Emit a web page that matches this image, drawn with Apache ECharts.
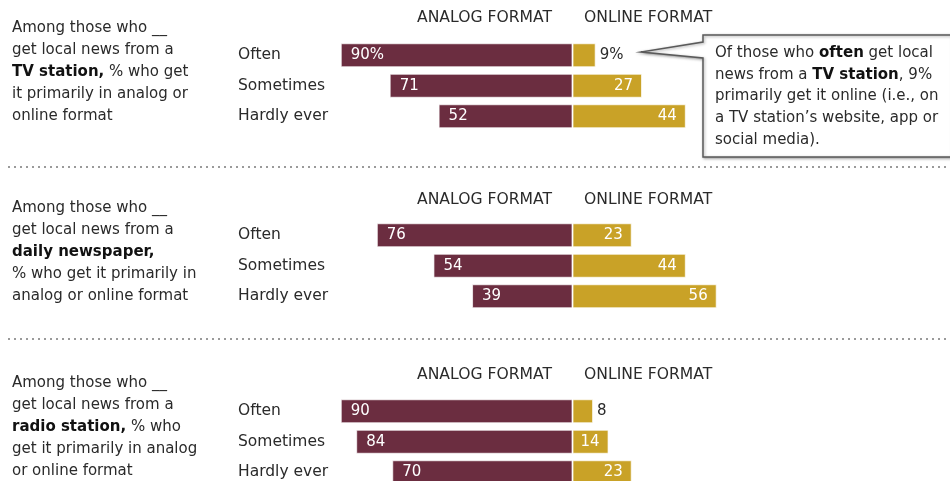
<!DOCTYPE html>
<html>
<head>
<meta charset="utf-8">
<script src="https://cdn.jsdelivr.net/npm/echarts@6/dist/echarts.min.js"></script>
<style>
  html, body { margin: 0; padding: 0; background: #fff; }
  #chart { width: 950px; height: 481px; }
</style>
</head>
<body>
<div id="chart"></div>
<script>
// Frequency of getting local news from each source
const categories = ['Often', 'Sometimes', 'Hardly ever'];
const formatHeaders = ['ANALOG FORMAT', 'ONLINE FORMAT'];

// Share getting it in analog vs. online format (%)
const tvAnalog = [90, 71, 52];
const tvOnline = [9, 27, 44];
const paperAnalog = [76, 54, 39];
const paperOnline = [23, 44, 56];
const radioAnalog = [90, 84, 70];
const radioOnline = [8, 14, 23];

const panelTexts = [
  'Among those who __\nget local news from a\n{b|TV station,} % who get\nit primarily in analog or\nonline format',
  'Among those who __\nget local news from a\n{b|daily newspaper,}\n% who get it primarily in\nanalog or online format',
  'Among those who __\nget local news from a\n{b|radio station,} % who\nget it primarily in analog\nor online format'
];
const noteText = 'Of those who {b|often} get local\nnews from a {b|TV station}, 9%\nprimarily get it online (i.e., on\na TV station\u2019s website, app or\nsocial media).';

const panels = [
  { analog: tvAnalog, online: tvOnline, pct: true },
  { analog: paperAnalog, online: paperOnline, pct: false },
  { analog: radioAnalog, online: radioOnline, pct: false }
];

const FONT = '"DejaVu Sans", Verdana, sans-serif';
const TXT = '#2a2a2a';
const ANALOG = '#6b2d40';
const ONLINE = '#c9a227';

// Layout of the three stacked panels
const gridTops = [40, 220, 396];
const headerY = [18, 200, 375];
const textTops = [17, 197, 372];
const rowH = 30.5;

const grids = [], xAxes = [], yAxes = [], series = [];
panels.forEach((p, i) => {
  grids.push({ left: 315, width: 515, top: gridTops[i], height: rowH * 3, outerBoundsMode: 'none' });
  xAxes.push({
    gridIndex: i, type: 'value', min: -100, max: 100,
    show: false, splitLine: { show: false }
  });
  yAxes.push({
    gridIndex: i, type: 'category', inverse: true, data: categories,
    axisLine: { show: false }, axisTick: { show: false },
    axisLabel: { align: 'left', margin: 77, fontSize: 15.5, fontFamily: FONT, color: TXT }
  });
  const suffix = (idx) => (p.pct && idx === 0 ? '%' : '');
  series.push({
    type: 'bar', xAxisIndex: i, yAxisIndex: i, barWidth: 24, barGap: '-100%',
    itemStyle: { color: ANALOG, borderColor: 'rgba(255,255,255,0.7)', borderWidth: 1 },
    data: p.analog.map(v => -v),
    label: {
      show: true, position: 'insideLeft', distance: 10, color: '#fff',
      fontSize: 15, fontFamily: FONT,
      formatter: (d) => Math.abs(d.value) + suffix(d.dataIndex)
    }
  });
  series.push({
    type: 'bar', xAxisIndex: i, yAxisIndex: i, barWidth: 24, barGap: '-100%',
    itemStyle: { color: ONLINE, borderColor: 'rgba(255,255,255,0.7)', borderWidth: 1 },
    data: p.online.map(v => v < 10
      ? { value: v, label: { position: 'right', distance: 4, color: TXT } }
      : v),
    label: {
      show: true, position: 'insideRight', distance: 9, color: '#fff',
      fontSize: 15, fontFamily: FONT,
      formatter: (d) => d.value + suffix(d.dataIndex)
    }
  });
});

const graphics = [];
panels.forEach((p, i) => {
  graphics.push({
    type: 'text', x: 552, y: headerY[i],
    style: { text: formatHeaders[0], font: '15.6px ' + FONT, fill: TXT,
      align: 'right', verticalAlign: 'middle', textAlign: 'right', textVerticalAlign: 'middle' }
  });
  graphics.push({
    type: 'text', x: 584, y: headerY[i],
    style: { text: formatHeaders[1], font: '15.6px ' + FONT, fill: TXT,
      align: 'left', verticalAlign: 'middle', textAlign: 'left', textVerticalAlign: 'middle' }
  });
  graphics.push({
    type: 'text', x: 12, y: textTops[i],
    style: {
      text: panelTexts[i], font: '15px ' + FONT, fill: TXT, lineHeight: 22,
      verticalAlign: 'top', textVerticalAlign: 'top',
      rich: { b: { fontWeight: 'bold', fontSize: 15, fontFamily: FONT, lineHeight: 22, fill: '#111' } }
    }
  });
});

// Dotted separators between panels
[167, 339].forEach(y => {
  graphics.push({
    type: 'line', shape: { x1: 8, y1: y, x2: 947, y2: y },
    style: { stroke: '#9a9a9a', lineWidth: 2, lineDash: [2, 4] }
  });
});

// Callout box with pointer
graphics.push({
  type: 'polygon',
  shape: { points: [[703, 35], [952, 35], [952, 157], [703, 157], [703, 58], [641, 52], [703, 42]] },
  style: { fill: '#fff', stroke: '#5a5a5a', lineWidth: 1.5,
    shadowBlur: 3, shadowColor: 'rgba(0,0,0,0.35)', shadowOffsetX: 1, shadowOffsetY: 1 }
});
graphics.push({
  type: 'text', x: 715, y: 42,
  style: {
    text: noteText, font: '15px ' + FONT, fill: TXT, lineHeight: 21.75,
    verticalAlign: 'top', textVerticalAlign: 'top',
    rich: { b: { fontWeight: 'bold', fontSize: 15, fontFamily: FONT, lineHeight: 21.75, fill: '#111' } }
  }
});

const chart = echarts.init(document.getElementById('chart'), null, { renderer: 'canvas' });
chart.setOption({
  backgroundColor: '#fff',
  animation: false,
  grid: grids,
  xAxis: xAxes,
  yAxis: yAxes,
  series: series,
  graphic: graphics
});
</script>
</body>
</html>
